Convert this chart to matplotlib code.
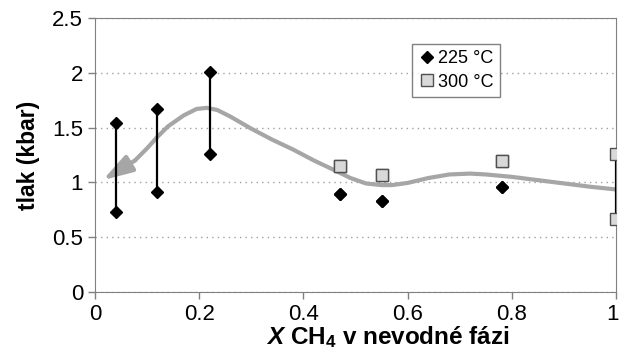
import matplotlib.pyplot as plt
import matplotlib.transforms as mtransforms

plt.rcParams['font.family'] = ['Liberation Sans', 'DejaVu Sans']
plt.rcParams['mathtext.fontset'] = 'custom'
plt.rcParams['mathtext.rm'] = 'Liberation Sans:bold'
plt.rcParams['mathtext.bf'] = 'Liberation Sans:bold'
plt.rcParams['mathtext.it'] = 'Liberation Sans:italic'
plt.rcParams['mathtext.bfit'] = 'Liberation Sans:bold:italic'

# 225 °C measurements
x225 = [0.04, 0.12, 0.22, 0.47, 0.55, 0.78]
y225_high = [1.54, 1.67, 2.01, 0.89, 0.83, 0.955]
y225_low = [0.73, 0.915, 1.255, 0.89, 0.83, 0.955]

# 300 °C measurements
x300 = [0.47, 0.55, 0.78, 1.0]
y300_high = [1.15, 1.065, 1.195, 1.26]
y300_low = [1.15, 1.065, 1.195, 0.67]

# hand-drawn trend curve (right to left, arrow at the end)
trend_x = [1.0, 0.95, 0.9, 0.85, 0.8, 0.75, 0.72, 0.68, 0.64, 0.6, 0.57,
           0.55, 0.52, 0.49, 0.46, 0.42, 0.38, 0.34, 0.3, 0.26, 0.235,
           0.215, 0.195, 0.17, 0.14, 0.119, 0.1, 0.077]
trend_y = [0.935, 0.96, 0.99, 1.02, 1.05, 1.072, 1.08, 1.072, 1.04, 0.995,
           0.975, 0.975, 0.99, 1.04, 1.11, 1.2, 1.3, 1.39, 1.49, 1.6, 1.66,
           1.68, 1.67, 1.61, 1.51, 1.41, 1.31, 1.2]
arrow_tip = (0.015, 1.02)

fig = plt.figure(figsize=(6.2, 3.53), dpi=100)
ax = fig.add_axes([0.153, 0.173, 0.841, 0.776])

ax.plot(trend_x, trend_y, color='#a6a6a6', lw=3, solid_capstyle='round', zorder=2)
ax.annotate('', xy=arrow_tip, xytext=(trend_x[-1], trend_y[-1]),
            arrowprops=dict(arrowstyle='-|>,head_length=1.8,head_width=0.55',
                            mutation_scale=10, color='#a6a6a6', lw=3,
                            shrinkA=0, shrinkB=0),
            zorder=2)

for xi, lo, hi in zip(x225, y225_low, y225_high):
    if hi != lo:
        ax.plot([xi, xi], [lo, hi], color='black', lw=1.6, zorder=3)
for xi, lo, hi in zip(x300, y300_low, y300_high):
    if hi != lo:
        ax.plot([xi, xi], [lo, hi], color='black', lw=1.6, zorder=3)

ax.plot(x225 + x225, y225_high + y225_low, linestyle='none', marker='D',
        ms=6.5, color='black', zorder=4, label='225 °C')
ax.plot(x300 + x300, y300_high + y300_low, linestyle='none', marker='s',
        ms=8, mfc='#d9d9d9', mec='#505050', mew=1, zorder=4, label='300 °C')

ax.set_xlim(0, 1)
ax.set_ylim(0, 2.5)
ax.set_xticks([0, 0.2, 0.4, 0.6, 0.8, 1])
ax.set_xticklabels(['0', '0.2', '0.4', '0.6', '0.8', '1'])
ax.set_yticks([0, 0.5, 1, 1.5, 2, 2.5])
ax.set_yticklabels(['0', '0.5', '1', '1.5', '2', '2.5'])
ax.tick_params(labelsize=16, length=5, color='#808080', width=1)
ax.grid(axis='y', linestyle=(0, (1, 3)), color='#a0a0a0', lw=1)
for s in ax.spines.values():
    s.set_color('#808080')

# last x tick label sits at the figure edge; nudge it inside
last = ax.get_xticklabels()[-1]
last.set_transform(last.get_transform() +
                   mtransforms.ScaledTranslation(-4 / 100, 0, fig.dpi_scale_trans))

ax.set_xlabel(r'$\mathbfit{X}$ CH$_{4}$ v nevodné fázi', fontsize=17.5,
              fontweight='bold')
ax.xaxis.label.set_va('baseline')
ax.xaxis.set_label_coords(0.562, -0.19)
ax.set_ylabel('tlak (kbar)', fontsize=16.5, fontweight='bold', labelpad=9)

leg = ax.legend(loc='upper left', bbox_to_anchor=(0.608, 0.905), fontsize=13,
                frameon=True, fancybox=False, edgecolor='#606060',
                handletextpad=0.1, handlelength=1.0, borderpad=0.35,
                labelspacing=0.35, borderaxespad=0)
leg.get_frame().set_linewidth(1)

fig.savefig('out.png', dpi=100)
